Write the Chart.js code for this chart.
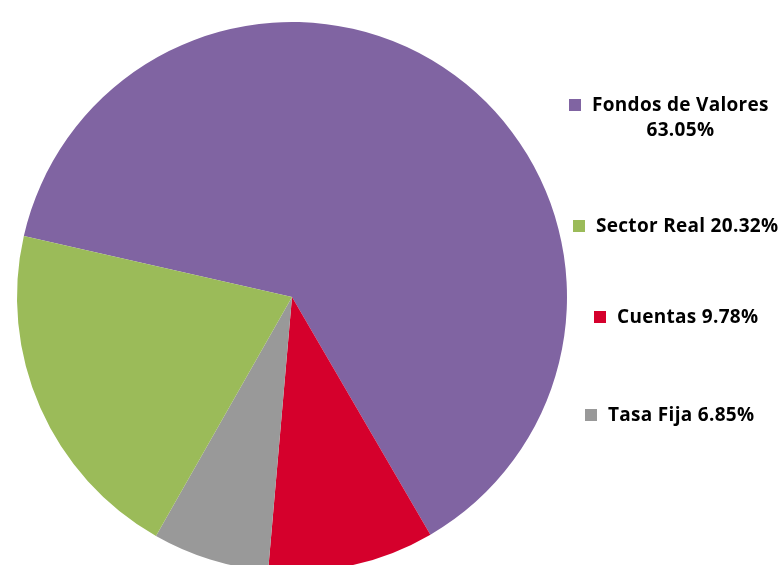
<!DOCTYPE html>
<html>
<head>
<meta charset="utf-8">
<script src="https://cdn.jsdelivr.net/npm/chart.js@4"></script>
<style>
  html, body { margin: 0; padding: 0; background: #fff; overflow: hidden; width: 781px; height: 565px; }
  #wrap { position: relative; width: 781px; height: 565px; }
  canvas { position: absolute; left: 0; top: 0; }
  .item {
    position: absolute; font-family: "Open Sans", sans-serif; font-weight: 700;
    font-size: 19px; line-height: 25px; letter-spacing: 0.3px; color: #000;
    text-align: center; white-space: nowrap;
  }
  .sw { position: absolute; left: -23px; top: 7px; width: 12px; height: 12px; }
</style>
</head>
<body>
<div id="wrap">
  <canvas id="pieChart" width="781" height="600"></canvas>
</div>
<script>
// Datos del gráfico (orden de las porciones en sentido horario)
const categorias = ['Fondos de Valores', 'Cuentas', 'Tasa Fija', 'Sector Real'];
const porcentajes = [63.05, 9.78, 6.85, 20.32];
const colores = ['#8064A2', '#D5002C', '#999999', '#9BBB59'];

// Orden y posición de la leyenda (como en la imagen)
const ordenLeyenda = [0, 3, 1, 2];
const posLeyenda = [
  { left: 592, top: 92, wrap: true },
  { left: 596, top: 213 },
  { left: 617, top: 304 },
  { left: 608, top: 402 }
];

document.addEventListener('DOMContentLoaded', function() {
    const ctx = document.getElementById('pieChart').getContext('2d');
    new Chart(ctx, {
        type: 'pie',
        data: {
            labels: categorias,
            datasets: [{
                data: porcentajes,
                backgroundColor: colores,
                borderWidth: 0
            }]
        },
        options: {
            responsive: false,
            animation: false,
            rotation: 282.8,
            layout: { padding: { left: 17, right: 214, top: 22, bottom: 28 } },
            plugins: {
                legend: { display: false },
                tooltip: { enabled: false }
            }
        }
    });

    // Leyenda
    const wrap = document.getElementById('wrap');
    ordenLeyenda.forEach(function(i, k) {
        const p = posLeyenda[k];
        const el = document.createElement('div');
        el.className = 'item';
        el.style.left = p.left + 'px';
        el.style.top = p.top + 'px';
        const sw = '<span class="sw" style="background:' + colores[i] + '"></span>';
        const pct = porcentajes[i].toFixed(2) + '%';
        el.innerHTML = sw + categorias[i] + (p.wrap ? '<br>' : ' ') + pct;
        wrap.appendChild(el);
    });
});
</script>
</body>
</html>
